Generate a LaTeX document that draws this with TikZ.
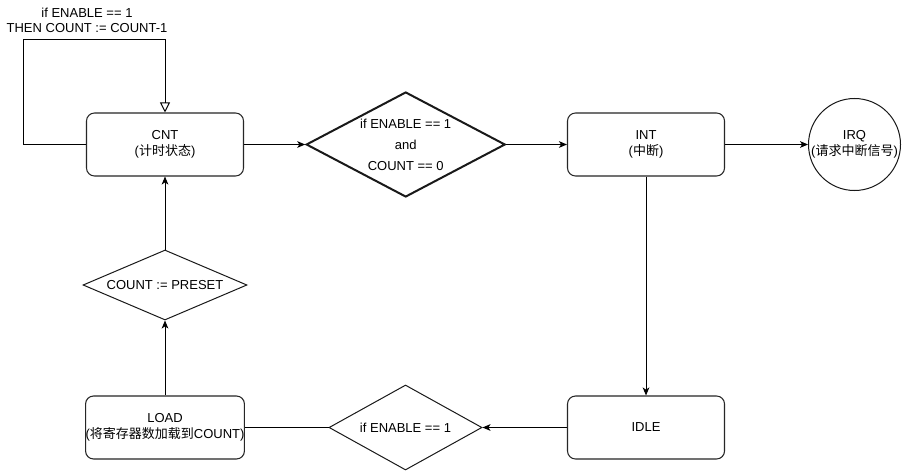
\documentclass[tikz,border=0pt]{standalone}
\usepackage{fontspec}
\setmainfont{Liberation Sans}
\newfontfamily\cjk{Noto Sans CJK SC}
\usetikzlibrary{arrows.meta,shapes.geometric}
\begin{document}
\begin{tikzpicture}[x=0.75pt,y=-0.75pt,
  font=\fontsize{9.75}{12}\selectfont,
  box/.style={draw=black!85, line width=0.8pt, rounded corners=6pt, fill=white,
    minimum width=117.75pt, minimum height=47.25pt, inner sep=0pt, align=center},
  dia/.style={diamond, draw=black!90, fill=white, inner sep=0pt, line width=0.75pt},
  txt/.style={align=center, inner sep=0pt},
  arr/.style={draw, line width=0.75pt, -{Stealth[length=6pt,width=5pt,inset=1.6pt]}},
  con/.style={draw, line width=0.75pt},
  openarr/.style={draw, line width=0.75pt, -{Triangle[open, length=7.5pt, width=7.5pt]}},
]
\useasboundingbox[fill=white] (0,0) rectangle (906,474);

% nodes
\node[box] (cnt) at (165,144.5) {CNT\\({\cjk 计时状态})};
\node[dia, minimum width=149.25pt, minimum height=78.75pt, line width=1.5pt] (d1) at (405.7,144.5) {};
\node[txt, font=\fontsize{9.75}{15.75}\selectfont] (d1t) at (d1.center) {if ENABLE == 1\\and\\COUNT == 0};
\node[box] (int) at (646,144.5) {INT\\({\cjk 中断})};
\node[circle, draw=black!90, fill=white, line width=0.75pt, minimum size=69pt, inner sep=0pt] (irq) at (854.5,144.5) {};
\node[txt] (irqt) at (irq.center) {IRQ\\({\cjk 请求中断信号})};

\node[dia, minimum width=123pt, minimum height=52.5pt] (pre) at (165,285) {};
\node[txt] (pret) at (pre.center) {COUNT := PRESET};
\node[box] (load) at (165,427.5) {LOAD\\({\cjk 将寄存器数加载到}COUNT)};
\node[dia, minimum width=114.75pt, minimum height=63.75pt] (d2) at (405.5,427.5) {};
\node[txt] (d2t) at (d2.center) {if ENABLE == 1};
\node[box] (idle) at (646,427.5) {IDLE};

\node[txt, font=\fontsize{9.75}{11.25}\selectfont] (lbl) at (87,20) {if ENABLE == 1\\THEN COUNT := COUNT-1};

% connectors
\coordinate (lp) at (23,40);
\draw[openarr] (cnt.west) -| (lp) -| (cnt.north);
\draw[arr] (cnt.east) -- (d1.west);
\draw[arr] (d1.east) -- (int.west);
\draw[arr] (int.east) -- (irq.west);
\draw[arr] (int.south) -- (idle.north);
\draw[arr] (idle.west) -- (d2.east);
\draw[con] (d2.west) -- (load.east);
\draw[arr] (load.north) -- (pre.south);
\draw[arr] (pre.north) -- (cnt.south);
\end{tikzpicture}
\end{document}
